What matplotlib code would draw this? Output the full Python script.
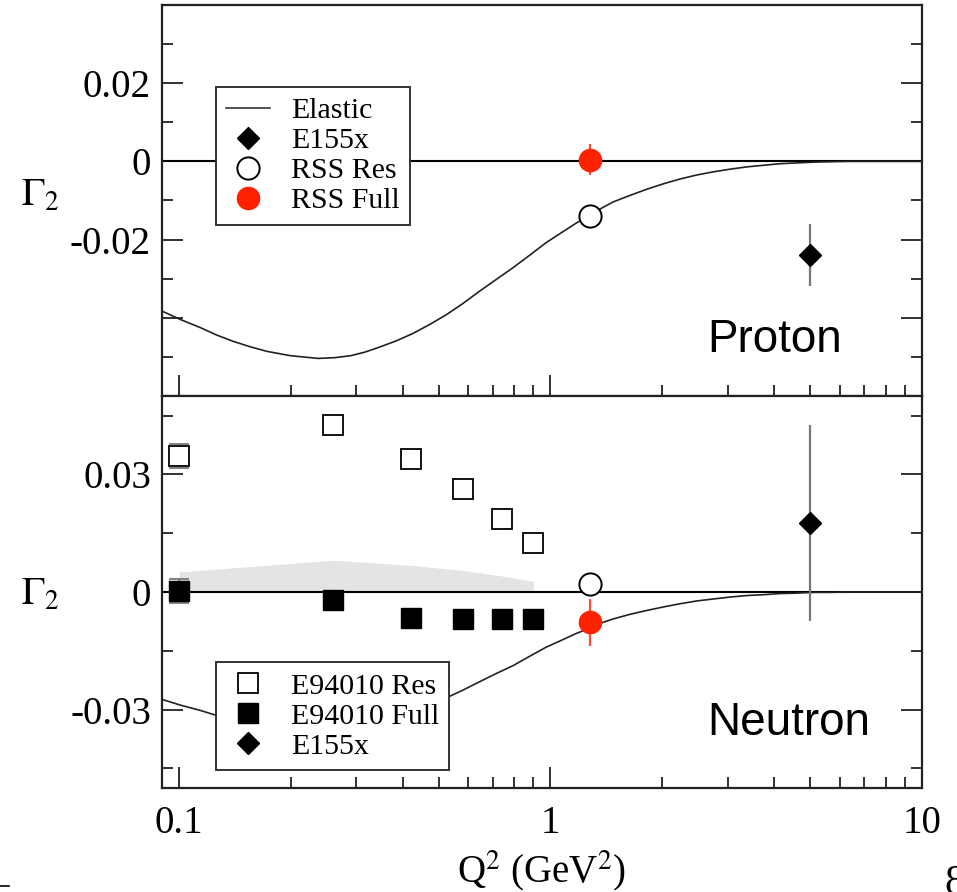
import matplotlib
matplotlib.use("Agg")
import matplotlib.pyplot as plt
from matplotlib.lines import Line2D
from matplotlib.ticker import FixedLocator, FixedFormatter, NullFormatter

# =====================
# Data
# =====================
# elastic contribution (same Q2 grid for both targets)
q2_el = [0.0900, 0.1012, 0.1140, 0.1262, 0.1396, 0.1552, 0.1726, 0.1995, 0.2371,
         0.2630, 0.2897, 0.3162, 0.3467, 0.3846, 0.4266, 0.4732, 0.5248, 0.5821,
         0.6442, 0.7145, 0.7925, 0.8790, 0.9727, 1.0715, 1.1722, 1.2764, 1.3709,
         1.4723, 1.6368, 1.8197, 2.0184, 2.2336, 2.4717, 2.7353, 3.0409, 3.3806,
         3.7411, 4.1495, 4.5709, 5.0933, 5.6234, 6.2806, 10.0]
g2_el_p = [-0.0383, -0.0405, -0.0425, -0.0444, -0.0460, -0.0474, -0.0486, -0.0497,
           -0.0504, -0.0502, -0.0497, -0.0488, -0.0475, -0.0459, -0.0440, -0.0417,
           -0.0392, -0.0363, -0.0332, -0.0302, -0.0272, -0.0240, -0.0208, -0.0182,
           -0.0158, -0.0138, -0.0120, -0.0104, -0.0087, -0.0071, -0.0057, -0.0045,
           -0.0035, -0.0027, -0.0020, -0.0014, -0.0010, -0.0006, -0.0004, -0.0002,
           -0.0001, 0.0, 0.0]
g2_el_n = [-0.0274, -0.0289, -0.0302, -0.0315, -0.0327, -0.0334, -0.0343, -0.0350,
           -0.0353, -0.0351, -0.0348, -0.0342, -0.0333, -0.0321, -0.0308, -0.0290,
           -0.0270, -0.0250, -0.0229, -0.0208, -0.0188, -0.0164, -0.0141, -0.0123,
           -0.0106, -0.0092, -0.0079, -0.0069, -0.0057, -0.0047, -0.0038, -0.0030,
           -0.0023, -0.0018, -0.0013, -0.0009, -0.0007, -0.0004, -0.0003, -0.0001,
           -0.0001, 0.0, 0.0]

# proton points
rss_q2 = [1.277]
rss_res_p = [-0.0140]
rss_full_p = [0.0004]
rss_full_p_err = [0.004]
e155_q2 = [5.0]
e155_p = [-0.024]
e155_p_err = [0.008]

# neutron points
e94010_q2 = [0.1, 0.26, 0.42, 0.58, 0.739, 0.899]
e94010_res = [0.0346, 0.0427, 0.0340, 0.0262, 0.0185, 0.0126]
e94010_res_err = [0.0031, 0.0005, 0.0005, 0.0005, 0.0005, 0.0005]
e94010_full = [0.0003, -0.0021, -0.0066, -0.0070, -0.0070, -0.0070]
e94010_full_err = [0.0031, 0.0008, 0.0008, 0.0008, 0.0008, 0.0008]
band_hi = [0.0051, 0.0081, 0.0068, 0.0055, 0.0041, 0.0027]
rss_res_n = [0.0021]
rss_full_n = [-0.0077]
rss_full_n_err = [0.006]
e155_n = [0.0177]
e155_n_err = [0.025]

RED = "#ff2200"
RED_ERR = "#ff4a3a"

plt.rcParams["font.family"] = ["Liberation Serif", "DejaVu Serif"]
plt.rcParams["mathtext.fontset"] = "stix"
plt.rcParams["axes.unicode_minus"] = False

fig = plt.figure(figsize=(9.57, 8.92), dpi=100)
ax1 = fig.add_axes([0.1693, 0.5561, 0.7941, 0.4383])
ax2 = fig.add_axes([0.1693, 0.1166, 0.7941, 0.4395], sharex=ax1)


def style_axis(ax, major, labels, minor):
    ax.set_xscale("log")
    ax.set_xlim(0.09, 10)
    ax.yaxis.set_major_locator(FixedLocator(major))
    ax.yaxis.set_major_formatter(FixedFormatter(labels))
    ax.yaxis.set_minor_locator(FixedLocator(minor))
    ax.tick_params(which="both", direction="in", right=True, top=False,
                   labelsize=28, width=1.3, color="#222222")
    ax.tick_params(which="major", length=15, pad=8)
    ax.tick_params(which="minor", length=8)
    for sp in ax.spines.values():
        sp.set_linewidth(1.6)
        sp.set_color("#222222")
    ax.axhline(0, color="black", lw=1.5, zorder=2)


# =====================
# Proton
# =====================
style_axis(ax1, [0.02, 0, -0.02, -0.04], ["0.02", "0", "-0.02", ""],
           [0.03, 0.01, -0.01, -0.03, -0.05])
ax1.set_ylim(-0.06, 0.04)
ax1.plot(q2_el, g2_el_p, color="#222222", lw=1.2, zorder=3)
ax1.errorbar(rss_q2, rss_full_p, yerr=rss_full_p_err, fmt="o", ms=16, color=RED,
             ecolor=RED_ERR, elinewidth=1.6, zorder=5)
ax1.plot(rss_q2, rss_res_p, "o", ms=16, mfc="white", mec="black", mew=1.4, zorder=5)
ax1.errorbar(e155_q2, e155_p, yerr=e155_p_err, fmt="D", ms=11, color="black",
             ecolor="#777777", elinewidth=1.6, zorder=5)
plt.setp(ax1.get_xticklabels(), visible=False)

h1 = [Line2D([], [], color="#333333", lw=1.2),
      Line2D([], [], marker="D", ls="none", ms=11, color="black"),
      Line2D([], [], marker="o", ls="none", ms=16, mfc="white", mec="black", mew=1.4),
      Line2D([], [], marker="o", ls="none", ms=16, color=RED)]
leg1 = ax1.legend(h1, ["Elastic", "E155x", "RSS Res", "RSS Full"],
                  loc="upper left", bbox_to_anchor=(0.071, 0.79), borderaxespad=0,
                  fontsize=21.5, fancybox=False, framealpha=1, edgecolor="#333333",
                  handlelength=1.45, handletextpad=0.7, labelspacing=0.1,
                  borderpad=0.35)
leg1.get_frame().set_linewidth(1.4)
ax1.text(0.717, 0.113, "Proton", transform=ax1.transAxes, fontsize=33,
         family=["Liberation Sans", "DejaVu Sans"], va="baseline")

# =====================
# Neutron
# =====================
style_axis(ax2, [0.03, 0, -0.03], ["0.03", "0", "-0.03"],
           [0.045, 0.015, -0.015, -0.045])
ax2.set_ylim(-0.05, 0.05)
ax2.fill_between(e94010_q2, 0, band_hi, color="#e4e4e4", lw=0, zorder=1)
ax2.plot(q2_el, g2_el_n, color="#222222", lw=1.2, zorder=3)
ax2.errorbar(e94010_q2, e94010_res, yerr=e94010_res_err, fmt="s", ms=14,
             mfc="white", mec="black", mew=1.3, ecolor="#777777", elinewidth=1.3,
             capsize=7.5, capthick=1.3, zorder=5)
ax2.errorbar(e94010_q2, e94010_full, yerr=e94010_full_err, fmt="s", ms=14,
             color="black", ecolor="#777777", elinewidth=1.3,
             capsize=7.5, capthick=1.3, zorder=5)
ax2.plot(rss_q2, rss_res_n, "o", ms=16, mfc="white", mec="black", mew=1.4, zorder=5)
ax2.errorbar(rss_q2, rss_full_n, yerr=rss_full_n_err, fmt="o", ms=16, color=RED,
             ecolor=RED_ERR, elinewidth=1.6, zorder=5)
ax2.errorbar(e155_q2, e155_n, yerr=e155_n_err, fmt="D", ms=11, color="black",
             ecolor="#777777", elinewidth=1.6, zorder=4)

ax2.xaxis.set_major_locator(FixedLocator([0.1, 1, 10]))
ax2.xaxis.set_major_formatter(FixedFormatter(["0.1", "1", "10"]))
ax2.xaxis.set_minor_formatter(NullFormatter())
ax2.tick_params(axis="x", which="major", pad=12)
ax2.set_xlabel(r"Q$^{2}$ (GeV$^{2}$)", fontsize=28, labelpad=5)

h2 = [Line2D([], [], marker="s", ls="none", ms=14, mfc="white", mec="black", mew=1.3),
      Line2D([], [], marker="s", ls="none", ms=14, color="black"),
      Line2D([], [], marker="D", ls="none", ms=11, color="black")]
leg2 = ax2.legend(h2, ["E94010 Res", "E94010 Full", "E155x"],
                  loc="lower left", bbox_to_anchor=(0.071, 0.046), borderaxespad=0,
                  fontsize=21.5, fancybox=False, framealpha=1, edgecolor="#333333",
                  handlelength=1.45, handletextpad=0.7, labelspacing=0.1,
                  borderpad=0.35)
leg2.get_frame().set_linewidth(1.4)
leg2.set_zorder(6)
ax2.text(0.717, 0.135, "Neutron", transform=ax2.transAxes, fontsize=33,
         family=["Liberation Sans", "DejaVu Sans"], va="baseline")

# y labels
for ax, yc in ((ax1, 0.51), (ax2, 0.49)):
    ax.set_ylabel(r"$\Gamma_2$", fontsize=28, rotation=0, va="center", ha="center")
    ax.yaxis.set_label_coords(-0.16, yc)

# page number and rule fragment, cut off at the page edges
fig.text(0.987, -0.012, "8", fontsize=30, ha="left", va="bottom")
fig.add_artist(Line2D([0.0, 0.009], [0.0065, 0.0065], color="black", lw=1.2))

fig.savefig("out.png", dpi=100)
